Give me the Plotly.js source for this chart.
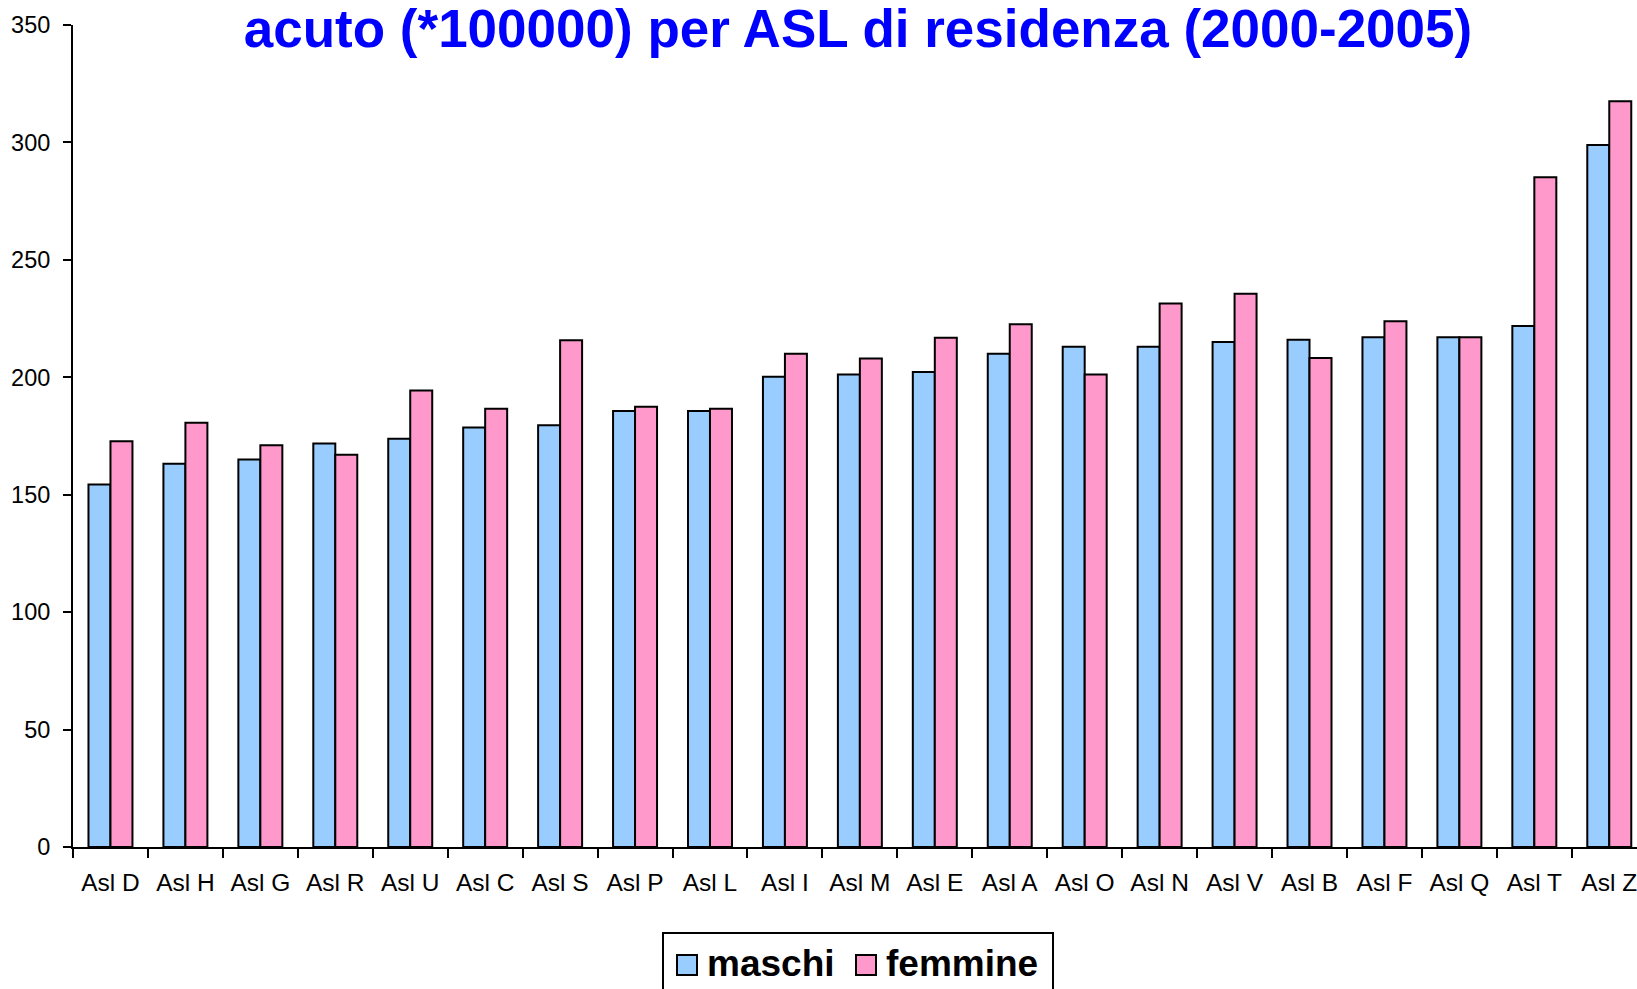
<!DOCTYPE html>
<html><head><meta charset="utf-8">
<script src="https://cdn.plot.ly/plotly-3.0.1.min.js"></script>
<style>html,body{margin:0;padding:0;background:#fff;overflow:hidden;} #chart{width:1637px;height:989px;}</style>
</head><body><div id="chart"></div>
<script>
const categories = ["Asl D","Asl H","Asl G","Asl R","Asl U","Asl C","Asl S","Asl P","Asl L","Asl I","Asl M","Asl E","Asl A","Asl O","Asl N","Asl V","Asl B","Asl F","Asl Q","Asl T","Asl Z"];
const maschi = [154.3,163.2,165,171.8,173.8,178.6,179.6,185.6,185.6,200.2,201.2,202.2,210,213,213,215,216,217,217,221.8,298.9];
const femmine = [172.8,180.6,171.1,167,194.4,186.6,215.8,187.5,186.6,210,208,216.8,222.6,201.2,231.4,235.6,208.2,223.9,217,285.2,317.5];
const seriesNames = ["maschi","femmine"];
const yTicks = [0,50,100,150,200,250,300,350];
const titleText = "acuto (*100000) per ASL di residenza (2000-2005)";

const W = 1637, H = 989;
const M = {l:73, r:0, t:25, b:142};
const plotW = W - M.l - M.r, plotH = H - M.t - M.b;
const catW = 74.94;
const px = v => (v - M.l) / plotW;          // pixel x -> paper x
const py = v => (H - M.b - v) / plotH;      // pixel y (from top) -> paper y

const FONT = "Liberation Sans, Arial, sans-serif";
const blue = "#99CCFF", pink = "#FF99CC";

const traces = [
  {type:"bar", name:seriesNames[0], x:categories, y:maschi,
   marker:{color:blue, line:{color:"#000", width:2}}, hoverinfo:"x+y"},
  {type:"bar", name:seriesNames[1], x:categories, y:femmine,
   marker:{color:pink, line:{color:"#000", width:2}}, hoverinfo:"x+y"}
];

// custom legend (box, swatches, labels)
const legendFont = {family:FONT, size:37, color:"#000", weight:"bold"};
const shapes = [
  {type:"rect", xref:"paper", yref:"paper", x0:px(663), x1:px(1053), y0:py(933), y1:py(1010),
   line:{color:"#000", width:2}, fillcolor:"#fff", layer:"above"},
  {type:"rect", xref:"paper", yref:"paper", x0:px(677), x1:px(697), y0:py(955), y1:py(975),
   line:{color:"#000", width:2}, fillcolor:blue, layer:"above"},
  {type:"rect", xref:"paper", yref:"paper", x0:px(856), x1:px(876), y0:py(955), y1:py(975),
   line:{color:"#000", width:2}, fillcolor:pink, layer:"above"}
];
const annotations = [
  {xref:"paper", yref:"paper", x:px(705), y:py(963), xanchor:"left", yanchor:"middle",
   text:"<b>"+seriesNames[0]+"</b>", showarrow:false, font:legendFont},
  {xref:"paper", yref:"paper", x:px(884), y:py(963), xanchor:"left", yanchor:"middle",
   text:"<b>"+seriesNames[1]+"</b>", showarrow:false, font:legendFont}
];

const layout = {
  width:W, height:H,
  margin:M,
  paper_bgcolor:"#fff", plot_bgcolor:"#fff",
  showlegend:false,
  barmode:"group", bargap:0.413, bargroupgap:0,
  title:{text:"<b>"+titleText+"</b>", font:{family:FONT, size:53, color:"#0000FF"},
         xref:"paper", x:px(858), xanchor:"center", yref:"container", y:1-28/H, yanchor:"middle"},
  xaxis:{type:"category", range:[-0.5, -0.5 + plotW/catW], fixedrange:true,
         showline:true, linecolor:"#000", linewidth:2, showgrid:false, zeroline:false,
         ticks:"outside", ticklen:9, tickwidth:2, tickcolor:"#000", tickson:"boundaries",
         tickfont:{family:FONT, size:24.5, color:"#000"}, ticklabelstandoff:13},
  yaxis:{range:[0,350], tickvals:yTicks, ticktext:yTicks.map(String), fixedrange:true,
         showline:true, linecolor:"#000", linewidth:2, showgrid:false, zeroline:false,
         ticks:"outside", ticklen:8, tickwidth:2, tickcolor:"#000",
         tickfont:{family:FONT, size:23.5, color:"#000"}, ticklabelstandoff:8},
  shapes:shapes,
  annotations:annotations,
  font:{family:FONT}
};

Plotly.newPlot("chart", traces, layout, {displayModeBar:false, staticPlot:true});
</script>
</body></html>
